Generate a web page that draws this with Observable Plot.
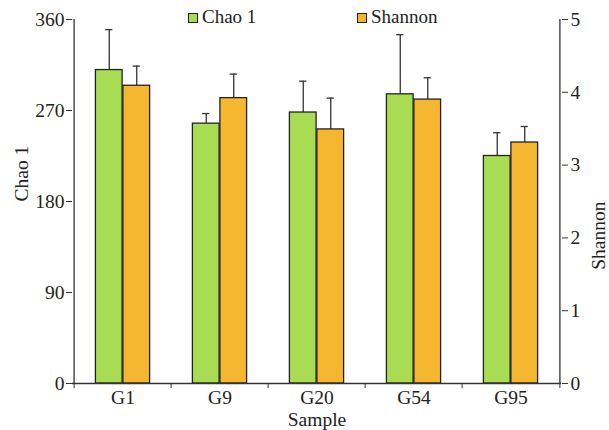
<!DOCTYPE html>
<html>
<head>
<meta charset="utf-8">
<script src="https://cdn.jsdelivr.net/npm/d3@7"></script>
<script src="https://cdn.jsdelivr.net/npm/@observablehq/plot@0.6"></script>
<style>
  html, body { margin: 0; padding: 0; background: white; }
  #wrap { position: relative; width: 609px; height: 430px; font-family: "Liberation Serif", serif; }
  .legend { position: absolute; top: 6px; display: flex; align-items: center; font-size: 19px; line-height: 22px; color: #222; }
  .legend .sw { width: 8px; height: 8px; border: 1.2px solid #222; margin-right: 4px; margin-top: 1px; }
</style>
</head>
<body>
<div id="wrap"></div>
<script>
const samples = ["G1", "G9", "G20", "G54", "G95"];
const chao1 = [310, 257, 268, 286, 225];
const chao1Err = [40, 10, 31, 59, 23];
const shannon = [4.09, 3.92, 3.49, 3.90, 3.31];
const shannonErr = [0.27, 0.33, 0.43, 0.30, 0.22];
const chaoTicks = [0, 90, 180, 270, 360];
const shannonTicks = [0, 1, 2, 3, 4, 5];
const seriesNames = ["Chao 1", "Shannon"];
const xTitle = "Sample";
const colors = ["#a8dc52", "#f5b730"];

const W = 609, H = 430;
const mL = 72, mR = 48, mT = 19, mB = 47;
const bw = (W - mL - mR) / samples.length;
const barW = 27.5;
const k = 360 / 5; // Shannon -> Chao 1 scale
const FS = 19.5;

const chaoData = samples.map((s, i) => ({sample: s, value: chao1[i], top: chao1[i] + chao1Err[i]}));
const shanData = samples.map((s, i) => ({sample: s, value: shannon[i] * k, top: (shannon[i] + shannonErr[i]) * k}));

const barOpts = (side) => side === 0
  ? {insetLeft: bw / 2 - barW, insetRight: bw / 2}
  : {insetLeft: bw / 2, insetRight: bw / 2 - barW};
const off = (side) => side === 0 ? -barW / 2 : barW / 2;

const marks = [];
[chaoData, shanData].forEach((data, side) => {
  marks.push(Plot.ruleX(data, {x: "sample", y1: "value", y2: "top", dx: off(side), stroke: "#333", strokeWidth: 1.3}));
  marks.push(Plot.tickY(data, {x: "sample", y: "top", dx: off(side), insetLeft: bw / 2 - 4, insetRight: bw / 2 - 4, stroke: "#333", strokeWidth: 1.3}));
  marks.push(Plot.barY(data, {x: "sample", y: "value", fill: colors[side], stroke: "#222", strokeWidth: 1.3, ...barOpts(side)}));
});

const chart = Plot.plot({
  width: W, height: H,
  marginLeft: mL, marginRight: mR, marginTop: mT, marginBottom: mB,
  style: {fontFamily: "Liberation Serif, serif", fontSize: FS + "px", color: "#222", background: "white"},
  x: {domain: samples, padding: 0},
  y: {domain: [0, 360]},
  marks: [
    ...marks,
    Plot.ruleY([0], {stroke: "#333", strokeWidth: 1.3}),
    Plot.ruleX([samples[0]], {dx: -bw / 2, stroke: "#333", strokeWidth: 1.3}),
    Plot.ruleX([samples[samples.length - 1]], {dx: bw / 2, stroke: "#333", strokeWidth: 1.3}),
    Plot.axisY(chaoTicks, {anchor: "left", tickSize: 6, tickPadding: 2, label: null, fontSize: FS, stroke: "#333"}),
    Plot.axisY(shannonTicks.map(d => d * k), {anchor: "right", tickSize: 6, tickPadding: 3, tickFormat: d => d / k, label: null, fontSize: FS, stroke: "#333"}),
    Plot.axisX(samples, {anchor: "bottom", tickSize: 0, tickPadding: 7, label: null, fontSize: FS}),
    Plot.axisX(samples, {anchor: "bottom", tickSize: 5, tickFormat: () => "", label: null, dx: -bw / 2, stroke: "#333"}),
    Plot.axisX([samples[samples.length - 1]], {anchor: "bottom", tickSize: 5, tickFormat: () => "", label: null, dx: bw / 2, stroke: "#333"}),
    Plot.text([seriesNames[0]], {frameAnchor: "left", rotate: -90, dx: -51, text: d => d, fontSize: FS}),
    Plot.text([seriesNames[1]], {frameAnchor: "right", rotate: -90, dx: 37, text: d => d, fontSize: FS}),
    Plot.text([xTitle], {frameAnchor: "bottom", dy: 42, text: d => d, fontSize: FS})
  ]
});

const wrap = document.getElementById("wrap");
wrap.appendChild(chart);
const legendX = [188, 357];
seriesNames.forEach((name, i) => {
  const item = document.createElement("div");
  item.className = "legend";
  item.style.left = legendX[i] + "px";
  const sw = document.createElement("div");
  sw.className = "sw";
  sw.style.background = colors[i];
  const t = document.createElement("span");
  t.textContent = name;
  item.appendChild(sw);
  item.appendChild(t);
  wrap.appendChild(item);
});
</script>
</body>
</html>
